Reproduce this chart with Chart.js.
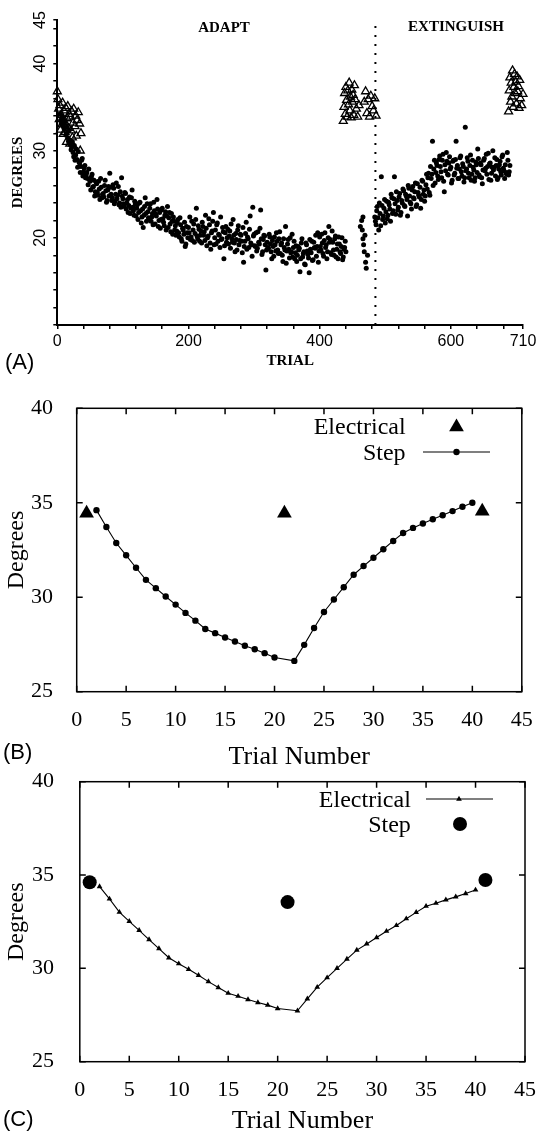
<!DOCTYPE html>
<html>
<head>
<meta charset="utf-8">
<script src="https://cdn.jsdelivr.net/npm/chart.js@4.4.0/dist/chart.umd.min.js"></script>
<style>
  html, body { margin: 0; padding: 0; background: #fff; overflow: hidden; }
  #wrap { position: relative; width: 539px; height: 1132px; }
  canvas { position: absolute; left: 0; }
</style>
</head>
<body>
<div id="wrap">
  <canvas id="chartA" width="539" height="380" style="top:0px"></canvas>
  <canvas id="chartB" width="539" height="395" style="top:380px"></canvas>
  <canvas id="chartC" width="539" height="380" style="top:760px"></canvas>
</div>
<script>
// ---- Panel A data (degrees per trial) ----
const trialTicksA = [0, 40, 80, 120, 160, 200, 240, 280, 320, 360, 400, 440, 480, 520, 560, 600, 640, 680, 710];
const trialLabelsA = [0, 200, 400, 600, 710];
const degreeTicksA = [10, 12, 14, 16, 18, 20, 22, 24, 26, 28, 30, 32, 34, 36, 38, 40, 42, 44, 45];
const degreeLabelsA = [20, 30, 40, 45];
const dividerTrial = 485;
const dividerDegrees = [10, 45];

// adapt phase, even trials from 4
const adaptEvenFirst = 4;
const adaptEvenDegrees = [
  34.2, 33.1, 33.8, 32.6, 33.4, 32.0, 31.5, 32.3,
  31.2, 30.4, 29.8, 30.6, 29.5, 29.0, 29.9, 28.6, 28.2, 29.1,
  27.6, 28.3, 27.2, 26.8, 27.9, 26.5, 27.0, 25.8, 26.6, 25.3,
  26.2, 24.9, 25.6, 26.8, 24.6, 25.1, 26.0, 25.4, 24.3, 25.9,
  27.4, 25.0, 24.6, 25.7, 24.2, 26.3, 24.9, 23.8, 25.3, 26.9,
  24.5, 23.6, 25.1, 24.0, 22.9, 24.7, 23.4, 25.5, 23.1, 24.2,
  22.5, 23.8, 22.9, 24.1, 21.7, 23.3, 22.6, 24.6, 21.9, 23.0,
  22.2, 23.9, 22.4, 21.5, 23.1, 22.7, 24.4, 21.3, 22.9, 22.1,
  23.4, 21.8, 22.6, 20.9, 23.6, 22.3, 21.6, 22.8, 20.4, 21.9,
  21.4, 20.8, 22.1, 20.1, 21.5, 19.6, 20.9, 21.8, 19.3, 20.6,
  21.2, 22.4, 20.1, 19.7, 21.6, 20.5, 23.4, 19.9, 21.0, 20.3,
  19.4, 21.3, 20.7, 22.6, 19.1, 20.2, 21.5, 18.7, 20.8, 22.9,
  20.0, 19.3, 21.7, 20.4, 18.9, 19.8, 21.2, 17.6, 20.6, 19.5,
  21.0, 20.2, 18.8, 19.9, 22.1, 19.4, 20.5, 18.6, 21.4, 19.7,
  20.3, 18.3, 17.2, 19.6, 21.8, 20.1, 18.9, 22.5, 19.2, 23.5,
  20.4, 19.0, 18.5, 20.7, 19.3, 23.2, 18.1, 19.8, 20.2, 16.3,
  19.5, 18.8, 20.1, 18.4, 19.7, 17.9, 19.2, 20.6, 18.6, 19.9,
  18.2, 19.4, 17.3, 18.9, 21.3, 18.5, 19.8, 17.7, 18.3, 20.4,
  18.9, 17.6, 19.1, 18.0, 18.6, 16.1, 19.4, 17.8, 18.4, 16.9,
  19.2, 18.1, 16.0, 18.7, 19.6, 17.5, 18.9, 20.3, 19.0, 17.2,
  20.1, 18.6, 19.4, 17.9, 20.6, 19.2, 18.4, 21.3, 19.8, 18.1,
  19.5, 18.0, 20.2, 18.7, 17.6, 19.3, 18.2, 20.0, 17.8, 18.9,
  18.4
];
// adapt phase, odd trials from 5
const adaptOddFirst = 5;
const adaptOddDegrees = [
  33.5, 34.0, 32.9, 33.2, 31.8, 32.7, 31.1, 30.7,
  30.1, 31.0, 29.3, 28.9, 30.2, 28.1, 28.7, 27.5, 28.9, 27.1,
  28.0, 26.9, 27.5, 26.1, 26.7, 25.5, 27.3, 25.9, 24.8, 26.4,
  25.2, 26.5, 24.4, 25.8, 25.0, 24.7, 26.6, 24.1, 25.5, 24.8,
  25.8, 24.3, 26.1, 23.9, 25.0, 24.5, 25.9, 24.0, 23.5, 24.8,
  23.9, 25.2, 23.3, 24.4, 23.7, 22.8, 24.6, 23.5, 22.6, 23.9,
  23.4, 22.1, 24.0, 23.1, 22.4, 21.2, 23.6, 22.8, 23.9, 22.3,
  23.4, 21.9, 22.8, 24.1, 21.6, 22.5, 23.3, 22.0, 21.1, 23.2,
  22.2, 21.4, 23.0, 22.5, 21.2, 22.9, 20.7, 21.9, 22.4, 20.9,
  20.3, 21.7, 20.6, 22.3, 19.9, 21.1, 20.4, 19.0, 21.3, 20.0,
  20.6, 19.8, 21.9, 20.9, 19.5, 22.1, 20.2, 21.4, 19.6, 20.8,
  21.8, 20.3, 19.7, 21.1, 20.0, 22.2, 19.4, 20.6, 21.9, 19.2,
  20.9, 21.5, 19.6, 20.3, 22.4, 19.9, 20.7, 19.1, 21.3, 20.0,
  19.3, 20.8, 21.6, 19.5, 20.3, 18.4, 19.8, 20.9, 19.2, 20.4,
  19.6, 21.2, 19.0, 20.5, 18.7, 19.9, 21.0, 19.4, 17.9, 20.2,
  19.1, 20.6, 18.8, 19.5, 21.1, 19.9, 18.4, 20.3, 19.2, 18.6,
  18.9, 20.4, 19.3, 17.6, 19.0, 20.1, 18.5, 19.6, 18.2, 20.7,
  19.2, 18.0, 19.9, 18.6, 17.1, 19.3, 18.7, 20.0, 18.4, 17.8,
  19.6, 18.3, 17.3, 19.0, 18.8, 17.6, 19.9, 18.2, 17.0, 19.4,
  18.5, 17.7, 19.8, 18.3, 17.4, 19.5, 18.8, 17.9, 20.6, 18.5,
  19.0, 20.4, 18.2, 19.7, 18.9, 17.6, 20.0, 19.5, 18.3, 20.8,
  18.6, 19.9, 17.8, 19.3, 20.1, 18.4, 19.0, 17.5, 18.7, 19.6
];
// short drop just before the extinction block
const gapTrials = [462, 464, 465, 466, 466, 467, 468, 469, 470, 471, 473];
const gapDegrees = [21.3, 22.0, 20.9, 22.4, 19.9, 19.2, 18.4, 20.3, 17.2, 16.5, 18.0];
// extinction phase, even trials from 484
const extinguishEvenFirst = 484;
const extinguishEvenDegrees = [
  22.4, 21.5, 23.6, 20.9, 22.8, 27.0, 22.1, 23.4, 21.7, 24.2,
  22.6, 23.8, 21.9, 24.6, 23.1, 27.0, 22.7, 24.3, 23.5, 25.1,
  22.9, 24.0, 25.4, 23.6, 24.8, 22.5, 25.7, 24.1, 23.3, 25.9,
  24.5, 26.3, 23.8, 25.2, 24.7, 23.4, 26.6, 25.0, 24.2, 26.1,
  25.6, 27.4, 24.9, 26.8, 31.1, 27.9, 26.3, 28.6, 27.1, 29.0,
  28.2, 26.9, 29.6, 25.3, 27.7, 28.8, 27.2, 29.3, 28.1, 26.6,
  28.9, 27.4, 31.1, 28.3, 26.8, 29.2, 27.6, 28.5, 26.4, 32.7,
  27.9, 28.8, 26.9, 29.5, 27.3, 28.1, 26.5, 28.7, 27.5, 29.1,
  27.0, 28.4, 26.2, 28.9, 27.7, 29.6, 28.2, 26.7, 28.6, 27.4,
  30.0, 28.1, 27.1, 29.0, 26.9, 28.4, 27.6, 29.3, 28.0, 26.8,
  27.5, 29.8, 27.2, 28.3
];
// extinction phase, odd trials from 485
const extinguishOddFirst = 485;
const extinguishOddDegrees = [
  21.9, 23.1, 22.3, 24.0, 21.4, 23.7, 22.5, 24.4, 23.0, 22.2,
  24.1, 23.3, 25.0, 22.8, 24.5, 23.9, 25.3, 23.2, 24.7, 22.6,
  24.3, 25.6, 23.7, 25.0, 24.4, 26.0, 24.8, 23.9, 25.5, 24.6,
  25.3, 23.6, 26.2, 24.9, 25.8, 24.4, 26.5, 25.5, 24.8, 27.3,
  26.9, 25.2, 28.2, 27.3, 26.0, 28.9, 27.5, 28.3, 26.7, 29.4,
  27.6, 28.9, 26.5, 28.4, 29.8, 27.3, 28.6, 27.9, 26.3, 28.8,
  27.2, 29.0, 28.0, 26.8, 27.9, 29.4, 27.1, 28.2, 26.9, 27.7,
  29.2, 27.4, 28.3, 26.6, 28.9, 27.8, 26.9, 28.4, 30.2, 27.2,
  28.6, 26.9, 27.8, 29.1, 28.0, 27.3, 29.7, 28.5, 26.6, 28.1,
  27.8, 29.2, 28.3, 26.7, 27.9, 28.8, 27.2, 29.5, 27.7, 28.4,
  27.3, 28.9, 27.6
];
// open triangles: electrical probe trials
const triTrials = [
  0, 1, 2, 3, 4, 5, 6, 7, 8, 9, 10, 11, 12, 13, 14, 15, 16, 17, 18, 19, 20,
  21, 22, 23, 24, 25, 26, 27, 28, 29, 30, 32, 34, 35, 36,
  436, 437, 438, 439, 440, 441, 442, 443, 444, 445, 446, 447, 448, 449, 450, 451, 452, 453, 454, 456, 458, 460,
  468, 470, 472, 474, 476, 478, 480, 482, 484, 486,
  688, 689, 690, 691, 692, 693, 694, 695, 696, 697, 698, 699, 700, 701, 702, 703, 704, 705, 706, 708, 710
];
const triDegrees = [
  36.8, 35.9, 34.8, 33.6, 35.2, 32.4, 34.1, 33.0, 35.5, 31.9, 34.6, 33.3, 32.1, 34.9, 31.0, 33.7, 35.1, 32.6, 34.2, 30.8, 33.9,
  32.3, 34.5, 31.5, 33.2, 34.8, 30.3, 32.8, 34.0, 31.7, 33.5, 34.4, 33.1, 30.0, 32.0,
  33.4, 35.0, 36.6, 34.2, 37.3, 35.8, 33.9, 36.9, 35.3, 37.8, 34.6, 36.2, 33.8, 37.0, 35.6, 36.4, 34.1, 37.5, 35.9, 34.8, 33.9, 35.2,
  35.6, 36.8, 34.3, 35.9, 33.9, 36.3, 35.1, 34.6, 36.0, 34.0,
  34.5, 36.9, 38.4, 35.6, 37.8, 36.2, 39.2, 35.0, 37.3, 38.8, 36.6, 37.9, 35.4, 38.5, 36.8, 37.4, 34.9, 38.1, 36.0, 35.2, 36.5
];

// ---- Panels B and C data ----
const lineTrials = [2, 3, 4, 5, 6, 7, 8, 9, 10, 11, 12, 13, 14, 15, 16, 17, 18, 19, 20,
  22, 23, 24, 25, 26, 27, 28, 29, 30, 31, 32, 33, 34, 35, 36, 37, 38, 39, 40];
const probeTrials = [1, 21, 41];
const stepDegreesB = [34.61, 33.72, 32.87, 32.22, 31.56, 30.92, 30.48, 30.04, 29.61, 29.17,
  28.76, 28.32, 28.10, 27.87, 27.66, 27.43, 27.25, 27.04, 26.81,
  26.63, 27.48, 28.37, 29.22, 29.88, 30.53, 31.19, 31.65, 32.09, 32.54,
  32.98, 33.40, 33.67, 33.90, 34.13, 34.34, 34.56, 34.79, 35.00];
const electricalDegreesB = [34.45, 34.45, 34.55];
const electricalDegreesC = [34.38, 33.72, 33.01, 32.52, 32.04, 31.54, 31.06, 30.57, 30.25, 29.95,
  29.63, 29.29, 28.97, 28.67, 28.51, 28.33, 28.17, 28.03, 27.85,
  27.73, 28.37, 28.99, 29.50, 30.00, 30.50, 30.98, 31.31, 31.65, 31.99,
  32.30, 32.66, 33.00, 33.33, 33.49, 33.67, 33.83, 34.01, 34.20];
const stepDegreesC = [34.61, 33.55, 34.73];
const trialTicksBC = [0, 5, 10, 15, 20, 25, 30, 35, 40, 45];
const degreeTicksBC = [25, 30, 35, 40];

const SERIF = '"Liberation Serif", "Times New Roman", serif';
const SANS = '"Liberation Sans", Arial, sans-serif';

function pairs(xs, ys) {
  return ys.map((y, i) => ({ x: xs[i], y: y }));
}
function everyOther(first, ys) {
  return ys.map((y, i) => ({ x: first + 2 * i, y: y }));
}
function zeroPad(scale) {
  scale.paddingTop = 0; scale.paddingBottom = 0;
  scale.paddingLeft = 0; scale.paddingRight = 0;
}
function fixedTicks(values) {
  return function(scale) { scale.ticks = values.map(v => ({ value: v })); };
}

function drawMarker(ctx, style, x, y, r) {
  ctx.beginPath();
  if (style === 'triangle') {
    ctx.moveTo(x, y - r);
    ctx.lineTo(x + r * 0.866, y + r * 0.5);
    ctx.lineTo(x - r * 0.866, y + r * 0.5);
    ctx.closePath();
  } else {
    ctx.arc(x, y, r, 0, Math.PI * 2);
  }
  ctx.fill();
}

// text and legend drawn on top of the chart
function labelPlugin(id, draw) {
  return { id: id, afterDraw(chart) { const ctx = chart.ctx; ctx.save(); draw(ctx, chart); ctx.restore(); } };
}

// closed frame with inward ticks
const framePlugin = {
  id: 'frame',
  afterDraw(chart) {
    const { ctx, chartArea: a } = chart;
    const xs = chart.scales.x, ys = chart.scales.y;
    ctx.save();
    ctx.strokeStyle = '#000';
    ctx.lineWidth = 1.5;
    ctx.strokeRect(a.left, a.top, a.right - a.left, a.bottom - a.top);
    ctx.beginPath();
    xs.ticks.forEach(t => {
      const px = xs.getPixelForValue(t.value);
      ctx.moveTo(px, a.bottom); ctx.lineTo(px, a.bottom - 6);
      ctx.moveTo(px, a.top); ctx.lineTo(px, a.top + 6);
    });
    ys.ticks.forEach(t => {
      const py = ys.getPixelForValue(t.value);
      ctx.moveTo(a.left, py); ctx.lineTo(a.left + 6, py);
      ctx.moveTo(a.right, py); ctx.lineTo(a.right - 6, py);
    });
    ctx.stroke();
    ctx.restore();
  }
};

function dotSet(points) {
  return { data: points, pointRadius: 2.5, pointBackgroundColor: '#000', pointBorderWidth: 0 };
}

// ---------------- Panel A ----------------
new Chart(document.getElementById('chartA'), {
  type: 'scatter',
  data: {
    datasets: [
      dotSet(everyOther(adaptEvenFirst, adaptEvenDegrees)),
      dotSet(everyOther(adaptOddFirst, adaptOddDegrees)),
      dotSet(pairs(gapTrials, gapDegrees)),
      dotSet(everyOther(extinguishEvenFirst, extinguishEvenDegrees)),
      dotSet(everyOther(extinguishOddFirst, extinguishOddDegrees)),
      {
        data: pairs(triTrials, triDegrees),
        pointStyle: 'triangle', pointRadius: 4.6,
        pointBackgroundColor: 'rgba(255,255,255,0)', pointBorderColor: '#000', pointBorderWidth: 1.3,
        clip: false
      },
      {
        data: dividerDegrees.map(d => ({ x: dividerTrial, y: d })),
        showLine: true, pointRadius: 0, borderColor: '#000', borderWidth: 2,
        borderDash: [2, 7]
      }
    ]
  },
  options: {
    responsive: false,
    animation: false,
    events: [],
    layout: { padding: { left: 0, right: 16, top: 20, bottom: 0 } },
    plugins: { legend: { display: false }, tooltip: { enabled: false } },
    scales: {
      x: {
        type: 'linear', min: 0, max: 710,
        afterBuildTicks: fixedTicks(trialTicksA),
        afterFit: s => { s.height = 55; zeroPad(s); },
        ticks: {
          autoSkip: false, maxRotation: 0, padding: 3, color: '#000',
          font: { family: SANS, size: 16 },
          callback: v => trialLabelsA.includes(v) ? String(v) : ''
        },
        grid: { drawOnChartArea: false, tickLength: 4, color: '#000', lineWidth: 1.5 },
        border: { display: true, color: '#000', width: 2 },
        title: {
          display: true, text: 'TRIAL', color: '#000',
          font: { family: SERIF, size: 15, weight: 'bold' },
          padding: { top: 0, bottom: 10 }
        }
      },
      y: {
        type: 'linear', min: 10, max: 45,
        afterBuildTicks: fixedTicks(degreeTicksA),
        afterFit: s => { s.width = 57.3; zeroPad(s); },
        ticks: {
          autoSkip: false, minRotation: 90, maxRotation: 90, crossAlign: 'center',
          padding: 4, color: '#000', font: { family: SANS, size: 16 },
          callback: v => degreeLabelsA.includes(v) ? String(v) : ''
        },
        grid: { drawOnChartArea: false, tickLength: 4, color: '#000', lineWidth: 1.5 },
        border: { display: true, color: '#000', width: 2 },
        title: {
          display: true, text: 'DEGREES', color: '#000',
          font: { family: SERIF, size: 15, weight: 'bold' },
          padding: { top: 9, bottom: 0 }
        }
      }
    }
  },
  plugins: [labelPlugin('textA', (ctx) => {
    ctx.fillStyle = '#000';
    ctx.textBaseline = 'middle';
    ctx.textAlign = 'center';
    ctx.font = 'bold 15px ' + SERIF;
    ctx.fillText('ADAPT', 224, 28);
    ctx.fillText('EXTINGUISH', 456, 27);
    ctx.textAlign = 'left';
    ctx.font = '22px ' + SANS;
    ctx.fillText('(A)', 5, 363);
  })]
});

// shared axis setup for panels B and C
function panelScales(yWidth, xHeight, yPad, xPad, xTitlePad) {
  return {
    x: {
      type: 'linear', min: 0, max: 45,
      afterBuildTicks: fixedTicks(trialTicksBC),
      afterFit: s => { s.height = xHeight; zeroPad(s); },
      ticks: { autoSkip: false, maxRotation: 0, padding: xPad, color: '#000', font: { family: SERIF, size: 22 } },
      grid: { display: false },
      border: { display: false },
      title: {
        display: true, text: 'Trial Number', color: '#000',
        font: { family: SERIF, size: 26 }, padding: { top: 0, bottom: xTitlePad }
      }
    },
    y: {
      type: 'linear', min: 25, max: 40,
      afterBuildTicks: fixedTicks(degreeTicksBC),
      afterFit: s => { s.width = yWidth; zeroPad(s); },
      ticks: { autoSkip: false, padding: yPad, color: '#000', font: { family: SERIF, size: 22 } },
      grid: { display: false },
      border: { display: false },
      title: {
        display: true, text: 'Degrees', color: '#000',
        font: { family: SERIF, size: 24 }, padding: { top: 2.6, bottom: 0 }
      }
    }
  };
}

// ---------------- Panel B ----------------
new Chart(document.getElementById('chartB'), {
  type: 'scatter',
  data: {
    datasets: [
      {
        data: pairs(lineTrials, stepDegreesB),
        showLine: true, borderColor: '#000', borderWidth: 1.1,
        pointRadius: 3.2, pointBackgroundColor: '#000', pointBorderWidth: 0
      },
      {
        data: pairs(probeTrials, electricalDegreesB),
        pointStyle: 'triangle', pointRadius: 8.5,
        pointBackgroundColor: '#000', pointBorderWidth: 0, clip: false
      }
    ]
  },
  options: {
    responsive: false,
    animation: false,
    events: [],
    layout: { padding: { left: 0, right: 17.2, top: 28.3, bottom: 0 } },
    plugins: { legend: { display: false }, tooltip: { enabled: false } },
    scales: panelScales(76.7, 83.3, 15.7, 7, 2.4)
  },
  plugins: [framePlugin, labelPlugin('textB', (ctx) => {
    ctx.fillStyle = '#000';
    ctx.strokeStyle = '#000';
    ctx.textBaseline = 'middle';
    ctx.textAlign = 'right';
    ctx.font = '24px ' + SERIF;
    ctx.fillText('Electrical', 405.6, 48);
    ctx.fillText('Step', 405.6, 74);
    drawMarker(ctx, 'triangle', 456.5, 47, 8.5);
    ctx.lineWidth = 1.1;
    ctx.beginPath(); ctx.moveTo(423, 72); ctx.lineTo(490, 72); ctx.stroke();
    drawMarker(ctx, 'circle', 456.5, 72, 3.2);
    ctx.textAlign = 'left';
    ctx.font = '22px ' + SANS;
    ctx.fillText('(B)', 3, 373);
  })]
});

// ---------------- Panel C ----------------
new Chart(document.getElementById('chartC'), {
  type: 'scatter',
  data: {
    datasets: [
      {
        data: pairs(lineTrials, electricalDegreesC),
        showLine: true, borderColor: '#000', borderWidth: 1.1,
        pointStyle: 'triangle', pointRadius: 3.3, pointBackgroundColor: '#000', pointBorderWidth: 0
      },
      {
        data: pairs(probeTrials, stepDegreesC),
        pointRadius: 7, pointBackgroundColor: '#000', pointBorderWidth: 0, clip: false
      }
    ]
  },
  options: {
    responsive: false,
    animation: false,
    events: [],
    layout: { padding: { left: 0, right: 14, top: 21.7, bottom: 0 } },
    plugins: { legend: { display: false }, tooltip: { enabled: false } },
    scales: panelScales(79.8, 78.3, 17.8, 7.5, 2.9)
  },
  plugins: [framePlugin, labelPlugin('textC', (ctx) => {
    ctx.fillStyle = '#000';
    ctx.strokeStyle = '#000';
    ctx.textBaseline = 'middle';
    ctx.textAlign = 'right';
    ctx.font = '24px ' + SERIF;
    ctx.fillText('Electrical', 410.8, 41);
    ctx.fillText('Step', 410.8, 66);
    ctx.lineWidth = 1.1;
    ctx.beginPath(); ctx.moveTo(426, 39); ctx.lineTo(493, 39); ctx.stroke();
    drawMarker(ctx, 'triangle', 459, 39, 3.3);
    drawMarker(ctx, 'circle', 460, 64, 7);
    ctx.textAlign = 'left';
    ctx.font = '22px ' + SANS;
    ctx.fillText('(C)', 3, 360);
  })]
});
</script>
</body>
</html>
